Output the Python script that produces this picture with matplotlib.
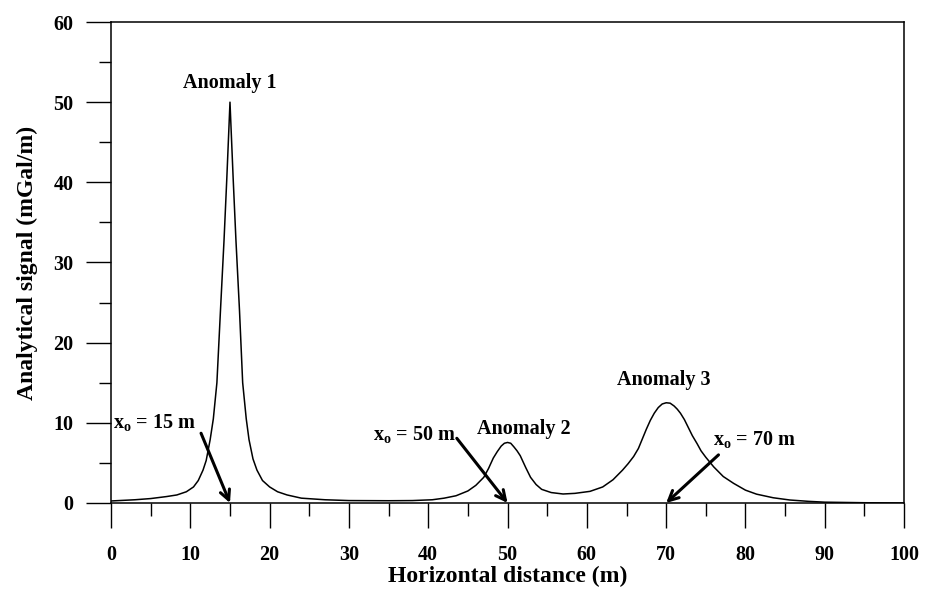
import matplotlib
matplotlib.use("Agg")
import matplotlib.pyplot as plt
from matplotlib.ticker import MultipleLocator

plt.rcParams['font.family'] = 'Liberation Serif'
plt.rcParams['font.weight'] = 'bold'
plt.rcParams['mathtext.fontset'] = 'custom'
plt.rcParams['mathtext.rm'] = 'Liberation Serif:bold'
plt.rcParams['mathtext.bf'] = 'Liberation Serif:bold'
plt.rcParams['mathtext.it'] = 'Liberation Serif:bold'

# profile (distance m, analytic signal mGal/m)
distance = [0, 3, 5, 7, 8.3, 9.5, 10.4, 11.0, 11.6, 12.0, 12.5, 12.9, 13.35, 13.8,
            14.25, 14.6, 15.0, 15.4, 15.75, 16.2, 16.6, 17.05, 17.4, 17.9, 18.4,
            19.1, 20.0, 21.0, 22.2, 24.0, 27, 30, 35, 38, 40.5, 42, 43.5, 45.0,
            46.0, 47.0, 47.6, 48.2, 48.7, 49.2, 49.6, 50.0, 50.4, 50.8, 51.2, 51.6,
            52.3, 52.9, 53.6, 54.3, 55.5, 57.0, 58.5, 60.4, 62.0, 63.3, 64.5,
            65.2, 65.9, 66.5, 67.0, 67.5, 68.0, 68.5, 69.0, 69.5, 70.0, 70.5,
            71.0, 71.4, 71.8, 72.3, 72.8, 73.3, 73.9, 74.4, 75.0, 76.0, 77.2,
            78.5, 80.0, 81.4, 83.5, 85.6, 88, 90, 95, 100]
signal = [0.25, 0.4, 0.55, 0.8, 1.0, 1.4, 2.0, 2.8, 4.1, 5.3, 7.9, 10.5, 15.0, 24.0,
          32.8, 40.5, 50.0, 40.5, 32.8, 24.0, 15.0, 10.5, 7.9, 5.5, 4.1,
          2.8, 2.0, 1.4, 1.0, 0.6, 0.4, 0.3, 0.28, 0.3, 0.4, 0.6, 0.9, 1.5,
          2.2, 3.2, 4.3, 5.6, 6.4, 7.1, 7.45, 7.55, 7.45, 7.0, 6.5, 5.9,
          4.4, 3.2, 2.3, 1.7, 1.3, 1.12, 1.2, 1.45, 2.0, 2.9, 4.1,
          4.9, 5.8, 6.8, 8.0, 9.2, 10.3, 11.2, 11.9, 12.35, 12.5, 12.45,
          12.1, 11.7, 11.2, 10.4, 9.4, 8.4, 7.4, 6.5, 5.7, 4.5, 3.3,
          2.45, 1.6, 1.1, 0.65, 0.37, 0.2, 0.1, 0.03, 0.0]

anomaly_labels = ["Anomaly 1", "Anomaly 2", "Anomaly 3"]
anomaly_label_pos = [(15, 52.4), (52.0, 9.2), (69.7, 15.3)]

source_labels = ["15 m", "50 m", "70 m"]
source_x = [15, 50, 70]
source_text_pos = [(0.3, 10.0), (33.0, 8.5), (75.9, 7.9)]
arrow_start = [(11.35, 8.7), (43.6, 8.07), (76.6, 6.0)]

fig = plt.figure(figsize=(9.33, 5.90), dpi=100)
ax = fig.add_axes([0.119, 0.1475, 0.85, 0.8152])

ax.plot(distance, signal, color='black', lw=1.1)

for lab, (lx, ly) in zip(anomaly_labels, anomaly_label_pos):
    ax.text(lx, ly, lab, ha='center', va='center', fontsize=14.5, fontweight='bold')

for lab, xs, (tx, ty), (sx, sy) in zip(source_labels, source_x, source_text_pos, arrow_start):
    ax.text(tx, ty, r'x$_\mathbf{o}$ = ' + lab, ha='left', va='center',
            fontsize=14.5, fontweight='bold')
    ax.annotate('', xy=(xs, 0), xytext=(sx, sy),
                arrowprops=dict(arrowstyle='->, head_length=0.7, head_width=0.35',
                                color='black', lw=2.2, shrinkA=0, shrinkB=0))

ax.set_xlim(0, 100)
ax.set_ylim(0, 60)
ax.xaxis.set_major_locator(MultipleLocator(10))
ax.xaxis.set_minor_locator(MultipleLocator(5))
ax.yaxis.set_major_locator(MultipleLocator(10))
ax.yaxis.set_minor_locator(MultipleLocator(5))
ax.tick_params(which='major', direction='out', length=18, width=1.0,
               labelsize=14.5, top=False, right=False)
ax.tick_params(which='minor', direction='out', length=9, width=1.0,
               top=False, right=False)
ax.tick_params(axis='x', which='major', pad=12)
ax.tick_params(axis='y', which='major', pad=9)
for s in ax.spines.values():
    s.set_linewidth(1.1)

ax.set_xlabel("Horizontal distance (m)", fontsize=17, fontweight='bold', labelpad=1)
ax.set_ylabel("Analytical signal (mGal/m)", fontsize=17, fontweight='bold', labelpad=11)

fig.savefig("out.png", dpi=100)
